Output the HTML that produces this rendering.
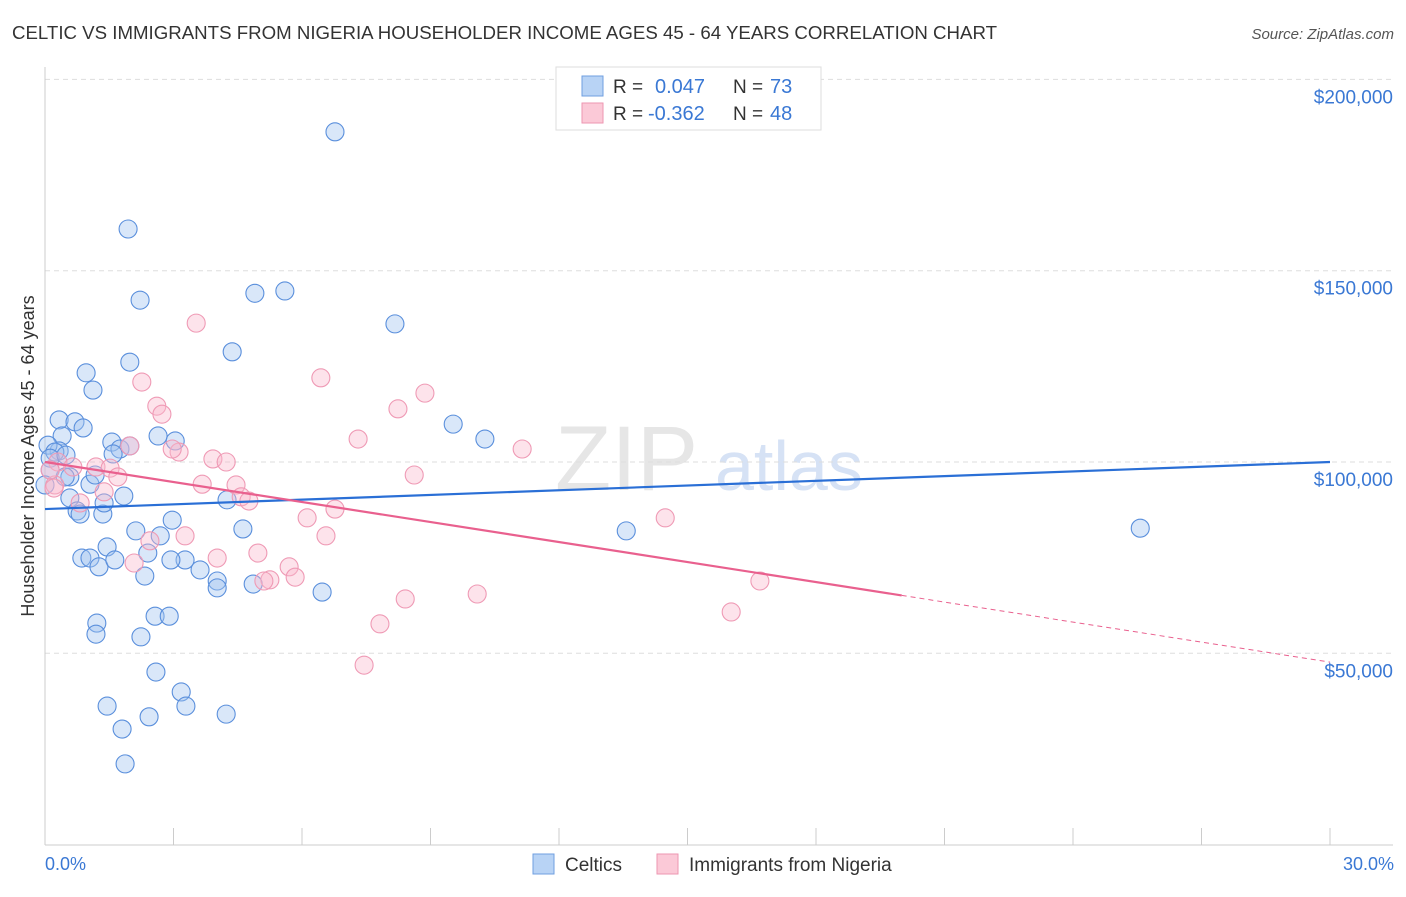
<!DOCTYPE html>
<html><head><meta charset="utf-8"><style>
body{margin:0;background:#fff;font-family:"Liberation Sans",sans-serif;}
svg text{font-family:"Liberation Sans",sans-serif;}
</style></head><body>
<svg id="chart" width="1406" height="892" viewBox="0 0 1406 892" xmlns="http://www.w3.org/2000/svg">
<text x="12" y="39" font-size="18" fill="#333" textLength="985" lengthAdjust="spacingAndGlyphs">CELTIC VS IMMIGRANTS FROM NIGERIA HOUSEHOLDER INCOME AGES 45 - 64 YEARS CORRELATION CHART</text>
<text x="1394" y="39" font-size="15" fill="#555" text-anchor="end" font-style="italic">Source: ZipAtlas.com</text>
<text x="555" y="490" font-size="92" fill="#e6e6e6" font-family="Liberation Serif">ZIP</text>
<text x="715" y="490" font-size="70" fill="#d6e2f5">atlas</text>
<g id="grid"></g>
<line x1="45" y1="67" x2="45" y2="845" stroke="#ccc" stroke-width="1"/>
<line x1="45" y1="845" x2="1393" y2="845" stroke="#ccc" stroke-width="1"/>
<text transform="translate(34,456) rotate(-90)" font-size="18" fill="#333" text-anchor="middle">Householder Income Ages 45 - 64 years</text>
<text x="45" y="870" font-size="18" fill="#3a78d4">0.0%</text>
<text x="1394" y="870" font-size="18" fill="#3a78d4" text-anchor="end">30.0%</text>
<g id="points"></g>
<g id="lines"></g>
<g>
<rect x="556" y="67" width="265" height="63" fill="#fff" stroke="#ddd"/>
<rect x="582" y="76" width="21" height="20" fill="#b8d3f5" stroke="#6f9fe0"/>
<rect x="582" y="103" width="21" height="20" fill="#fbc9d7" stroke="#ee96b1"/>
<text x="613" y="93" font-size="19" fill="#333">R =</text>
<text x="655" y="93" font-size="20" fill="#3a78d4">0.047</text>
<text x="733" y="93" font-size="19" fill="#333">N =</text>
<text x="770" y="93" font-size="20" fill="#3a78d4">73</text>
<text x="613" y="120" font-size="19" fill="#333">R =</text>
<text x="648" y="120" font-size="20" fill="#3a78d4">-0.362</text>
<text x="733" y="120" font-size="19" fill="#333">N =</text>
<text x="770" y="120" font-size="20" fill="#3a78d4">48</text>
</g>
<g>
<rect x="533" y="854" width="21" height="20" fill="#b8d3f5" stroke="#6f9fe0"/>
<text x="565" y="871" font-size="19" fill="#333">Celtics</text>
<rect x="657" y="854" width="21" height="20" fill="#fbc9d7" stroke="#ee96b1"/>
<text x="689" y="871" font-size="19" fill="#333">Immigrants from Nigeria</text>
</g>
</svg>
<script>
const yTicks=[50000,100000,150000,200000];
const yTickLabels=["$50,000","$100,000","$150,000","$200,000"];
const xTicks=[0,3,6,9,12,15,18,21,24,27,30];
const celticX=[6.77,1.94,2.22,4.90,5.60,8.17,4.37,1.98,0.96,1.12,0.33,0.70,0.89,0.40,0.33,0.07,0.23,1.56,1.75,1.98,2.64,3.04,1.59,0.12,0.49,0.58,0.47,1.05,0.58,1.84,0.75,0.82,1.35,1.38,4.25,9.53,10.27,4.62,2.97,2.12,1.45,2.69,2.40,0.86,1.05,1.26,1.63,2.33,3.27,2.94,3.62,4.02,4.02,4.86,6.47,1.21,1.19,2.57,2.90,2.24,2.59,3.18,3.29,1.45,2.43,4.23,1.80,1.87,13.57,25.57,0.12,0.0,1.17];
const celticY=[186.3,160.9,142.3,144.1,144.7,136.1,128.8,126.1,123.3,118.8,111.0,110.5,108.9,106.8,102.9,104.4,102.6,105.2,103.4,104.2,106.8,105.5,102.1,101.0,101.8,96.1,96.1,94.2,90.6,91.1,87.2,86.4,86.4,89.3,90.1,109.9,106.0,82.5,84.8,82.0,77.8,80.7,76.2,74.9,74.9,72.6,74.4,70.2,74.4,74.4,71.8,68.9,67.1,68.1,66.0,57.9,55.0,59.7,59.7,54.3,45.1,39.9,36.2,36.2,33.4,34.1,30.2,21.1,82.0,82.7,97.9,94.0,96.6];
const nigeriaX=[3.53,2.26,2.61,2.73,6.44,8.87,8.24,7.31,11.14,3.13,2.97,1.98,3.92,4.23,0.30,0.65,1.19,1.52,1.70,0.23,0.21,3.67,4.46,4.58,4.76,0.82,1.38,8.62,6.12,6.77,14.48,6.56,3.27,2.45,4.02,4.97,5.70,5.84,5.25,5.11,2.08,16.69,8.41,10.09,7.82,16.02,7.45,0.12];
const nigeriaY=[136.3,120.9,114.6,112.5,122.0,118.0,113.9,106.0,103.4,102.6,103.4,104.2,100.8,100.0,100.0,98.7,98.7,98.4,96.1,94.0,93.2,94.2,94.0,90.9,89.8,89.3,92.2,96.6,85.4,87.7,85.4,80.7,80.7,79.4,74.9,76.2,72.6,69.9,69.2,68.9,73.6,68.9,64.2,65.5,57.7,60.8,46.9,97.9];
const celticTrend=[87.7,100.0];
const nigeriaTrend=[100.0,47.7];
const nigeriaSolidEnd=20.0;

const NS="http://www.w3.org/2000/svg";
const xs=p=>45+p*(1285/30);
const ys=k=>844.6-k*1000*(382.6/100000);
function mk(tag,attrs,parent){const e=document.createElementNS(NS,tag);for(const k in attrs)e.setAttribute(k,attrs[k]);parent.appendChild(e);return e;}
const grid=document.getElementById('grid');
yTicks.forEach((t,i)=>{
  const y=ys(t/1000);
  const l=mk('line',{x1:45,x2:1393,y1:y,y2:y,stroke:'#ddd','stroke-dasharray':'5,4'},grid);
  
  
  const tx=mk('text',{x:1393,y:y+24,'font-size':19,fill:'#3a78d4','text-anchor':'end'},grid);
  tx.textContent=yTickLabels[i];
  
  
});
xTicks.forEach(t=>{
  const x=xs(t);
  const l=mk('line',{x1:x,x2:x,y1:828,y2:845,stroke:'#ccc'},grid);
  
  
});
const pts=document.getElementById('points');
celticX.forEach((x,i)=>{
  const c=mk('circle',{cx:xs(x),cy:ys(celticY[i]),r:9,fill:'rgba(160,196,240,0.4)',stroke:'#5a8fdc','stroke-width':1.1},pts);
  
  
});
nigeriaX.forEach((x,i)=>{
  const c=mk('circle',{cx:xs(x),cy:ys(nigeriaY[i]),r:9,fill:'rgba(249,185,205,0.4)',stroke:'#ef9ab5','stroke-width':1.1},pts);
  
  
});
const lines=document.getElementById('lines');
const bl=mk('line',{x1:xs(0),y1:ys(celticTrend[0]),x2:xs(30),y2:ys(celticTrend[1]),stroke:'#2a6fd6','stroke-width':2.2},lines);


const pAt=p=>nigeriaTrend[0]+(nigeriaTrend[1]-nigeriaTrend[0])*p/30;
const pl=mk('line',{x1:xs(0),y1:ys(pAt(0)),x2:xs(nigeriaSolidEnd),y2:ys(pAt(nigeriaSolidEnd)),stroke:'#e9608e','stroke-width':2.2},lines);


const pd=mk('line',{x1:xs(nigeriaSolidEnd),y1:ys(pAt(nigeriaSolidEnd)),x2:xs(30),y2:ys(pAt(30)),stroke:'#e9608e','stroke-width':1,'stroke-dasharray':'5,4'},lines);


</script>
</body></html>
